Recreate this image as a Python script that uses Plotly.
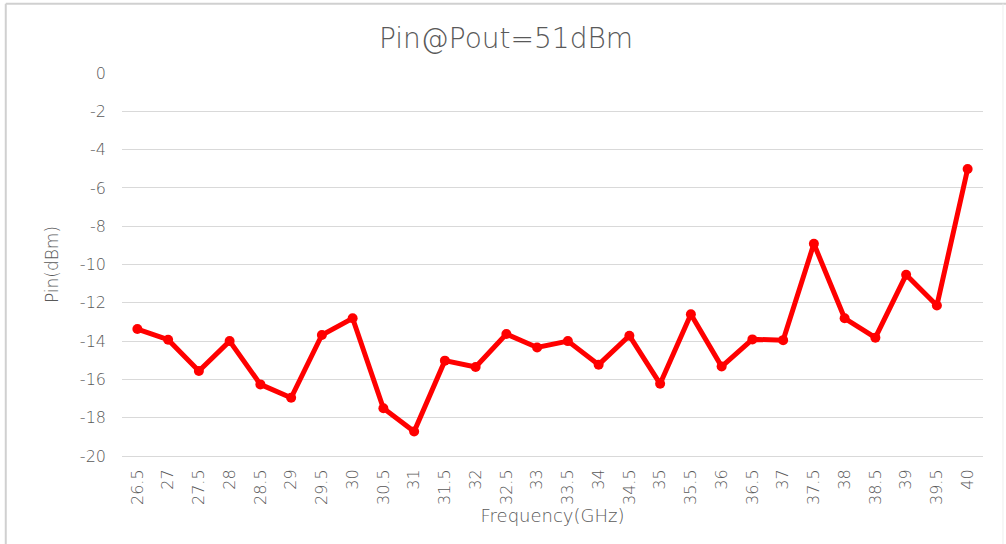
import plotly.graph_objects as go

freq = ["26.5", "27", "27.5", "28", "28.5", "29", "29.5", "30", "30.5", "31",
        "31.5", "32", "32.5", "33", "33.5", "34", "34.5", "35", "35.5", "36",
        "36.5", "37", "37.5", "38", "38.5", "39", "39.5", "40"]
pin = [-13.37, -13.93, -15.56, -14.0, -16.26, -16.96, -13.68, -12.81, -17.51, -18.72,
       -15.02, -15.35, -13.63, -14.33, -14.0, -15.23, -13.72, -16.23, -12.6, -15.33,
       -13.91, -13.95, -8.92, -12.81, -13.82, -10.54, -12.14, -5.01]
y_ticks = [0, -2, -4, -6, -8, -10, -12, -14, -16, -18, -20]
y_ticktext = ["0", "-2", "-4", "-6", "-8", "-10", "-12", "-14", "-16", "-18", "-20"]

FONT = "DejaVu Sans, sans-serif"
GRAY = "#595959"

fig = go.Figure()
fig.add_trace(go.Scatter(
    x=freq, y=pin, mode="lines+markers",
    line=dict(color="#FF0000", width=5),
    marker=dict(color="#FF0000", size=10),
    showlegend=False,
))

fig.update_layout(
    template="none",
    width=1006, height=544,
    paper_bgcolor="white", plot_bgcolor="white",
    margin=dict(l=122, r=23, t=73, b=88, autoexpand=False),
    title=dict(text="Pin@Pout=51dBm", x=0.503, xanchor="center", y=0.930, yanchor="middle",
               font=dict(family=FONT, size=28, color=GRAY, weight=200)),
    font=dict(family=FONT, color=GRAY, weight=200),
    xaxis=dict(
        type="category", range=[-0.5, len(freq) - 0.5], tickangle=-90, showgrid=False,
        automargin=False, showline=True, linecolor="#d9d9d9", linewidth=1,
        tickfont=dict(family=FONT, size=16, color=GRAY, weight=200), ticks="", ticklabelstandoff=6,
        title=dict(text="Frequency(GHz)", font=dict(family=FONT, size=18, color=GRAY, weight=200), standoff=0),
    ),
    yaxis=dict(
        range=[-20, 0], tickvals=y_ticks, ticktext=y_ticktext, automargin=False,
        showgrid=True, gridcolor="#d9d9d9", gridwidth=1,
        zeroline=False, showline=False, ticks="", ticklabelstandoff=15,
        tickfont=dict(family=FONT, size=16, color=GRAY, weight=200),
        title=dict(text="Pin(dBm)", font=dict(family=FONT, size=17, color=GRAY, weight=200), standoff=16),
    ),
    shapes=[
        dict(type="line", xref="paper", yref="paper", x0=-0.135, x1=1.03, y0=1.181, y1=1.181,
             line=dict(color="#d0d0d0", width=2)),
        dict(type="line", xref="paper", yref="paper", x0=-0.135, x1=-0.135, y0=1.181, y1=-0.25,
             line=dict(color="#d0d0d0", width=2)),
        dict(type="line", xref="paper", yref="paper", x0=1.0232, x1=1.0232, y0=1.181, y1=-0.25,
             line=dict(color="#eeeeee", width=1)),
    ],
)

fig.write_html("out.html", config={"displayModeBar": False},
               post_script="document.body.style.margin='0';")
